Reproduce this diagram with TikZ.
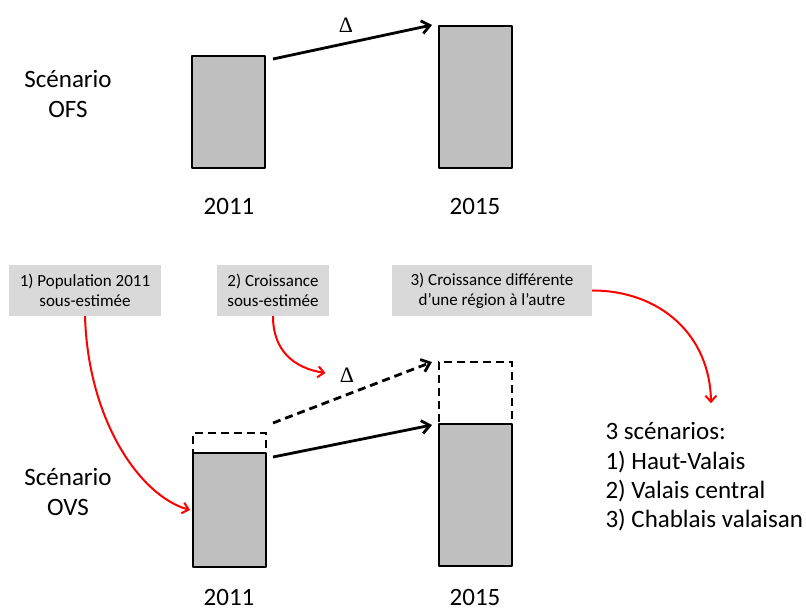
\documentclass[tikz,border=0pt]{standalone}
\usepackage{fontspec}
\setmainfont{Carlito}
\newfontfamily\deltafont{Liberation Serif}
\usetikzlibrary{arrows.meta}
\definecolor{barfill}{HTML}{BFBFBF}
\definecolor{notefill}{HTML}{D9D9D9}

\begin{document}
\begin{tikzpicture}[x=1pt, y=-1pt,
    bar/.style={draw, line width=2.8pt, fill=barfill, line join=round, inner sep=0pt, outer sep=0pt, minimum width=73pt, anchor=north west},
    extbar/.style={draw, line width=2.8pt, dash pattern=on 8pt off 5pt, inner sep=0pt, outer sep=0pt, minimum width=73pt, anchor=north west},
    note/.style={fill=notefill, inner sep=0pt, minimum height=51pt, align=center, font=\fontsize{17}{20}\selectfont},
    big/.style={font=\fontsize{25}{29.3}\selectfont, align=center},
    delta/.style={font=\deltafont\fontsize{22}{24}\selectfont},
    growth/.style={line width=2.8pt, -{Straight Barb[length=8pt,width=13pt]}},
    hint/.style={red, line width=2pt, -{Straight Barb[length=6pt,width=11pt]}}]
    \useasboundingbox (0,0) rectangle (806,612);

    \node[big] (ofs) at (68,94) {Scénario\\OFS};
    \node[bar, minimum height=112pt] (ofs11) at (192,56) {};
    \node[bar, minimum height=142pt] (ofs15) at (439,26) {};
    \node[big] (yofs11) at (229,206) {2011};
    \node[big] (yofs15) at (475,206) {2015};
    \node[delta] (d1) at (346,25) {Δ};
    \draw[growth] ([xshift=8pt,yshift=-3pt]ofs11.north east) -- ([xshift=-7pt,yshift=1pt]ofs15.north west);

    \node[note, minimum width=152pt] (note1) at (85,290.5) {1) Population 2011\\sous-estimée};
    \node[note, minimum width=112pt] (note2) at (273,290.5) {2) Croissance\\sous-estimée};
    \node[note, minimum width=200pt] (note3) at (492,290.5) {3) Croissance différente\\d’une région à l’autre};

    \node[big] (ovs) at (68,492) {Scénario\\OVS};
    \node[extbar, minimum height=20pt] (ovs11x) at (193,433) {};
    \node[extbar, minimum height=62pt] (ovs15x) at (439,362) {};
    \node[bar, minimum height=114pt] (ovs11) at (193,453) {};
    \node[bar, minimum height=142pt] (ovs15) at (439,424) {};
    \node[big] (yovs11) at (229,597) {2011};
    \node[big] (yovs15) at (475,597) {2015};
    \node[delta] (d2) at (347,375) {Δ};
    \draw[growth] ([xshift=7pt,yshift=-4pt]ovs11.north east) -- ([xshift=-7pt,yshift=-1pt]ovs15.north west);
    \draw[growth, dash pattern=on 8pt off 5pt] ([xshift=7pt,yshift=10pt]ovs11x.north east) -- ([xshift=-7pt]ovs15x.north west);

    \node[big, align=left, anchor=west] (list) at (602,477) {3 scénarios:\\1) Haut-Valais\\2) Valais central\\3) Chablais valaisan};

    \draw[hint] (note1.south) .. controls +(3,104) and +(-50,-14) .. ([xshift=-3pt]ovs11.west);
    \draw[hint] (note2.south) .. controls +(0,34) and +(-32,-5) .. ([xshift=-11pt,yshift=2pt]d2.west);
    \draw[hint] (note3.east) .. controls +(68,0) and +(-1,-68) .. ([xshift=109pt,yshift=16pt]list.north west);
\end{tikzpicture}
\end{document}
